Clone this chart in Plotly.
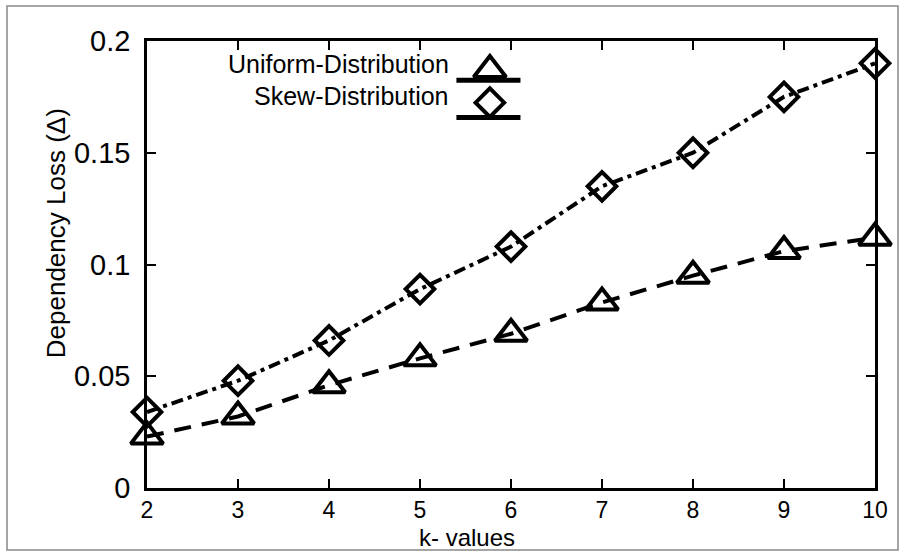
import plotly.graph_objects as go

k_values = [2, 3, 4, 5, 6, 7, 8, 9, 10]
uniform_loss = [0.023, 0.032, 0.046, 0.058, 0.069, 0.083, 0.095, 0.106, 0.112]
skew_loss = [0.034, 0.048, 0.066, 0.089, 0.108, 0.135, 0.150, 0.175, 0.190]
series_names = ["Uniform-Distribution", "Skew-Distribution"]
y_ticks = [0, 0.05, 0.1, 0.15, 0.2]
y_tick_text = ["0", "0.05", "0.1", "0.15", "0.2"]

FONT = "Liberation Sans, Arial, sans-serif"

fig = go.Figure()
fig.add_trace(go.Scatter(
    x=k_values, y=uniform_loss, name=series_names[0], mode="lines+markers",
    line=dict(color="black", width=4, dash="17px,11px"),
    marker=dict(symbol="triangle-up-open", size=28, color="black", line=dict(width=4, color="black")),
    cliponaxis=False, showlegend=False))
fig.add_trace(go.Scatter(
    x=k_values, y=skew_loss, name=series_names[1], mode="lines+markers",
    line=dict(color="black", width=4, dash="12px,5px,4px,5px"),
    marker=dict(symbol="diamond-open", size=22, color="black", line=dict(width=4, color="black")),
    cliponaxis=False, showlegend=False))

# custom legend (text left of symbol, as in the reference)
leg_x = 0.471
leg_y = [0.935, 0.862]
line_y = [0.912, 0.829]
symbols = ["triangle-up-open", "diamond-open"]
sizes = [28, 22]
text_y = [0.949, 0.876]
for i in range(2):
    fig.add_shape(type="line", xref="paper", yref="paper", x0=0.425, x1=0.513,
                  y0=line_y[i], y1=line_y[i], line=dict(color="black", width=5))
    fig.add_annotation(xref="paper", yref="paper", x=0.418, y=text_y[i],
                       text=series_names[i], showarrow=False, xanchor="right", yanchor="middle",
                       font=dict(family=FONT, size=25, color="black"))
    fig.add_trace(go.Scatter(
        x=[leg_x], y=[leg_y[i]], xaxis="x2", yaxis="y2", mode="markers",
        marker=dict(symbol=symbols[i], size=sizes[i], color="black", line=dict(width=4, color="black")),
        cliponaxis=False, showlegend=False, hoverinfo="skip"))

# axis titles
fig.add_annotation(xref="paper", yref="paper", x=0.44, y=-0.1425, text="k- values",
                   showarrow=False, xanchor="center", yanchor="bottom", borderpad=0,
                   font=dict(family=FONT, size=24, color="black"))
fig.add_annotation(xref="paper", yref="paper", x=-0.125, y=0.570, text="Dependency Loss (Δ)",
                   showarrow=False, xanchor="center", yanchor="middle", textangle=-90,
                   font=dict(family=FONT, size=26, color="black"))

# outer border
fig.add_shape(type="rect", xref="paper", yref="paper", x0=-0.1923, x1=1.0316, y0=-0.1387, y1=1.0783,
              line=dict(color="#888888", width=1.5))

axis_common = dict(showline=True, linecolor="black", linewidth=2.5, mirror="ticks",
                   ticks="inside", ticklen=9, tickwidth=2, tickcolor="black",
                   showgrid=False, zeroline=False)

fig.update_layout(
    width=904, height=552,
    margin=dict(l=147, r=29, t=41, b=64),
    plot_bgcolor="white", paper_bgcolor="white",
    xaxis=dict(range=[2, 10], tickvals=k_values, **axis_common,
               tickfont=dict(family=FONT, size=23, color="black")),
    yaxis=dict(range=[0, 0.2], tickvals=y_ticks, ticktext=y_tick_text, **axis_common,
               ticklabelstandoff=8,
               tickfont=dict(family=FONT, size=29, color="black")),
    xaxis2=dict(domain=[0, 1], range=[0, 1], visible=False, anchor="y2", overlaying="x"),
    yaxis2=dict(domain=[0, 1], range=[0, 1], visible=False, anchor="x2", overlaying="y"),
    showlegend=False,
)

fig.write_html("out.html")
